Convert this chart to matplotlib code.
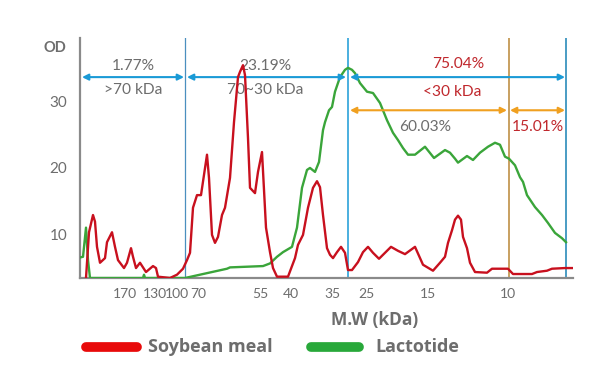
import matplotlib
matplotlib.use('Agg')
import matplotlib.pyplot as plt

# migration distance (arbitrary gel units) and OD readings
soy_pos = [6, 9, 13, 15, 17, 20, 25, 27, 32, 35, 38, 44, 47, 51, 53, 56, 60, 66, 73, 76, 78,
           90, 97, 103, 107, 110, 113, 117, 121, 127, 129, 132, 135, 138, 142, 145, 150, 154,
           158, 160, 163, 165, 168, 170, 175, 178, 182, 186, 190, 193, 197, 208, 215, 218,
           223, 228, 233, 237, 240, 243, 247, 250, 253, 257, 261, 265, 268, 272, 278, 283,
           288, 293, 299, 305, 311, 318, 325, 335, 343, 353, 360, 365, 368, 372, 375, 378,
           381, 383, 387, 390, 395, 407, 412, 428, 433, 452, 457, 467, 472, 485, 493]
soy_od = [3.4, 10.3, 12.9, 11.9, 8.1, 5.7, 6.4, 8.8, 10.3, 8.1, 6.1, 4.9, 5.7, 7.9, 6.6, 4.9,
          5.7, 4.3, 5.2, 4.9, 3.6, 3.4, 3.9, 4.8, 6.1, 7.2, 14.0, 15.9, 15.9, 22.0, 18.5, 9.9,
          8.7, 9.6, 12.9, 14.0, 18.5, 26.9, 33.7, 34.5, 35.5, 34.0, 24.5, 17.0, 16.2, 19.4,
          22.4, 11.0, 7.3, 4.9, 3.6, 3.6, 6.4, 8.4, 9.9, 14.0, 17.0, 18.0, 17.1, 12.9, 7.9,
          6.9, 6.4, 7.3, 8.1, 7.2, 4.6, 4.6, 5.8, 7.3, 8.1, 7.2, 6.3, 7.2, 8.1, 7.5, 7.0, 8.1,
          5.4, 4.5, 5.7, 6.6, 8.7, 10.6, 12.2, 12.8, 12.2, 9.6, 7.9, 5.7, 4.3, 4.2, 4.8, 4.8,
          4.0, 4.0, 4.3, 4.5, 4.8, 4.9, 4.9]

lac_pos = [0, 3, 6, 8, 10, 63, 64, 65, 105, 147, 150, 183, 190, 197, 203, 212, 217, 222, 227,
           230, 235, 239, 243, 245, 249, 252, 255, 260, 265, 268, 272, 275, 280, 287, 293,
           300, 307, 313, 318, 323, 328, 335, 345, 354, 365, 370, 375, 378, 387, 393, 400,
           408, 415, 420, 425, 429, 435, 440, 443, 447, 455, 462, 468, 475, 482, 486]
lac_od = [6.5, 6.6, 11.0, 6.1, 3.4, 3.4, 3.9, 3.4, 3.4, 4.8, 5.0, 5.2, 5.6, 6.6, 7.3, 8.1,
          11.0, 17.0, 19.7, 20.0, 19.4, 20.9, 25.7, 26.9, 28.7, 29.2, 31.5, 33.7, 34.8, 35.1,
          34.8, 34.3, 32.8, 31.5, 31.3, 29.8, 27.2, 25.3, 24.2, 23.0, 22.0, 22.0, 23.2, 21.5,
          22.7, 22.3, 21.4, 20.8, 21.8, 21.2, 22.3, 23.2, 23.8, 23.5, 21.7, 21.4, 20.4, 18.6,
          17.9, 15.9, 14.1, 12.9, 11.7, 10.2, 9.4, 8.8]

mw_ticks = [45, 75, 97, 118, 180, 211, 252, 286, 348, 428]
mw_labels = ['170', '130', '100', '70', '55', '40', '35', '25', '15', '10']
od_ticks = [10, 20, 30]

# fraction boundaries and shares
cut_70, cut_30, cut_10, lane_end = 105, 268, 429, 486
share_gt70, share_70_30, share_lt30 = '1.77%', '23.19%', '75.04%'
share_30_10, share_lt10 = '60.03%', '15.01%'

RED = '#c8101e'
GREEN = '#3aa53a'
BLUE = '#1a9ad6'
ORANGE = '#f0a020'
GREY_TXT = '#6d6d6d'
RED_TXT = '#c0282d'

plt.rcParams['font.family'] = ['Lato', 'DejaVu Sans']

fig = plt.figure(figsize=(5.94, 3.83), dpi=100)
ax = fig.add_axes([80 / 594, 1 - 278 / 383, 493 / 594, 240 / 383])

ax.plot(lac_pos, lac_od, color=GREEN, lw=1.7, zorder=3)
ax.plot(soy_pos, soy_od, color=RED, lw=1.7, zorder=4)

ax.axvline(cut_70, color='#4a8fbf', lw=0.9, zorder=2)
ax.axvline(cut_30, color=BLUE, lw=1.1, zorder=2)
ax.axvline(cut_10, color='#c8a060', lw=1.4, zorder=2)
ax.axvline(lane_end, color='#4a9cc4', lw=1.4, zorder=2)

def span(x0, x1, y, color):
    ax.annotate('', xy=(x1, y), xytext=(x0, y),
                arrowprops=dict(arrowstyle='<|-|>', color=color, lw=1.5,
                                mutation_scale=9, shrinkA=0, shrinkB=0))

span(2, cut_70 - 1, 33.7, BLUE)
span(cut_70 + 2, cut_30 - 2, 33.7, BLUE)
span(cut_30 + 2, lane_end - 1, 33.7, BLUE)
span(cut_30 + 2, cut_10 - 2, 28.7, ORANGE)
span(cut_10 + 1, lane_end - 1, 28.7, ORANGE)

tkw = dict(ha='center', va='center', fontsize=11.2)
ax.text(53, 35.4, share_gt70, color=GREY_TXT, **tkw)
ax.text(53, 31.8, '>70 kDa', color=GREY_TXT, **tkw)
ax.text(185, 35.4, share_70_30, color=GREY_TXT, **tkw)
ax.text(185, 31.8, '70~30 kDa', color=GREY_TXT, **tkw)
ax.text(378, 35.7, share_lt30, color=RED_TXT, **tkw)
ax.text(372, 31.5, '<30 kDa', color=RED_TXT, **tkw)
ax.text(345, 26.2, share_30_10, color=GREY_TXT, **tkw)
ax.text(458, 26.2, share_lt10, color=RED_TXT, **tkw)

ax.set_xlim(0, 493)
ax.set_ylim(3.4, 39.6)
ax.set_xticks(mw_ticks)
ax.set_xticklabels(mw_labels)
ax.set_yticks(od_ticks)
ax.tick_params(axis='both', length=0, labelsize=10, colors='#6d6d6d')
ax.tick_params(axis='y', pad=9, labelsize=11)
ax.tick_params(axis='x', pad=7)
for s in ['top', 'right']:
    ax.spines[s].set_visible(False)
for s in ['left', 'bottom']:
    ax.spines[s].set_color('#8a8a8a')
    ax.spines[s].set_linewidth(1.6)

fig.text(55 / 594, 1 - 48 / 383, 'OD', ha='center', va='center', fontsize=10.5,
         fontweight='bold', color='#6d6d6d')
fig.text(375 / 594, 1 - 320 / 383, 'M.W (kDa)', ha='center', va='center', fontsize=12.5,
         color='#6d6d6d', fontweight='bold', family=['Open Sans', 'DejaVu Sans'])

# legend drawn by hand in figure coordinates
fig.lines.append(plt.Line2D([86 / 594, 137 / 594], [1 - 347 / 383] * 2, transform=fig.transFigure,
                            color='#e80a0a', lw=7, solid_capstyle='round'))
fig.lines.append(plt.Line2D([311 / 594, 359 / 594], [1 - 347 / 383] * 2, transform=fig.transFigure,
                            color='#28a83a', lw=7, solid_capstyle='round'))
fig.text(148 / 594, 1 - 347 / 383, 'Soybean meal', ha='left', va='center', fontsize=13,
         color='#6d6d6d', fontweight='bold', family=['Open Sans', 'DejaVu Sans'])
fig.text(375 / 594, 1 - 347 / 383, 'Lactotide', ha='left', va='center', fontsize=13,
         color='#6d6d6d', fontweight='bold', family=['Open Sans', 'DejaVu Sans'])

fig.savefig('out.png', dpi=100)
